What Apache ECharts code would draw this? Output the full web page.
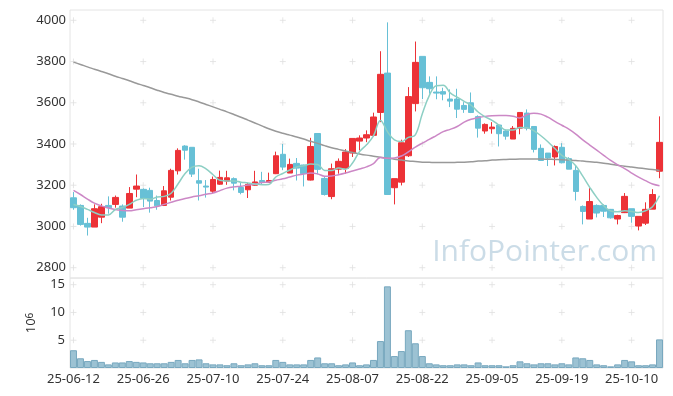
<!DOCTYPE html>
<html><head><meta charset="utf-8">
<script src="https://cdn.jsdelivr.net/npm/echarts@6/dist/echarts.min.js"></script>
<style>html,body{margin:0;padding:0;background:#fff}#c{width:673px;height:396px}</style>
</head><body><div id="c"></div>
<script>
const dates = ['25-06-12','25-06-13','25-06-16','25-06-17','25-06-18','25-06-19','25-06-20','25-06-23','25-06-24','25-06-25','25-06-26','25-06-27','25-06-30',
'25-07-01','25-07-02','25-07-03','25-07-04','25-07-07','25-07-08','25-07-09','25-07-10','25-07-11','25-07-14','25-07-15','25-07-16','25-07-17','25-07-18','25-07-21','25-07-22','25-07-23','25-07-24','25-07-25','25-07-28','25-07-29','25-07-30','25-07-31',
'25-08-01','25-08-04','25-08-05','25-08-06','25-08-07','25-08-08','25-08-11','25-08-12','25-08-13','25-08-14','25-08-18','25-08-19','25-08-20','25-08-21','25-08-22','25-08-25','25-08-26','25-08-27','25-08-28','25-08-29',
'25-09-01','25-09-02','25-09-03','25-09-04','25-09-05','25-09-08','25-09-09','25-09-10','25-09-11','25-09-12','25-09-15','25-09-16','25-09-17','25-09-18','25-09-19','25-09-22','25-09-23','25-09-24','25-09-25','25-09-26','25-09-29','25-09-30',
'25-10-01','25-10-02','25-10-10','25-10-13','25-10-14','25-10-15','25-10-16'];

const opens  = [3139,3102,3015,2997,3045,3102,3107,3099,3089,3181,3180,3175,3126,3102,3142,3270,3390,3384,3222,3196,3171,3205,3220,3232,3189,3178,3200,3223,3214,3256,3350,3259,3306,3298,3225,3451,3233,3145,3278,3282,3356,3414,3429,3442,3553,3744,3188,3215,3343,3596,3825,3699,3652,3654,3618,3618,3587,3600,3533,3463,3474,3492,3463,3424,3477,3550,3485,3379,3356,3337,3384,3329,3272,3097,3036,3102,3102,3083,3036,3067,3086,3002,3016,3084,3268];
const closes = [3091,3010,2997,3086,3096,3091,3141,3045,3160,3196,3137,3123,3100,3173,3272,3369,3370,3254,3210,3191,3228,3238,3236,3210,3165,3204,3216,3214,3223,3343,3288,3301,3283,3256,3388,3277,3155,3280,3316,3361,3427,3429,3445,3531,3738,3155,3232,3406,3630,3796,3673,3668,3647,3642,3608,3569,3568,3553,3477,3495,3482,3450,3438,3476,3553,3477,3374,3320,3332,3388,3309,3278,3170,3073,3121,3065,3074,3042,3053,3146,3049,3049,3083,3155,3408];
const lows   = [3081,3004,2956,2997,3016,3062,3091,3023,3089,3142,3094,3067,3081,3099,3126,3252,3324,3240,3126,3140,3162,3202,3202,3175,3156,3138,3198,3204,3214,3254,3273,3259,3223,3194,3223,3253,3150,3132,3256,3256,3337,3369,3409,3437,3506,3155,3107,3199,3337,3558,3618,3644,3617,3612,3579,3526,3551,3550,3431,3450,3450,3388,3421,3424,3447,3466,3359,3318,3293,3296,3306,3278,3126,3010,3036,3044,3046,3038,3010,3065,3018,2981,3007,3084,3234];
const highs  = [3167,3107,3042,3107,3110,3146,3150,3107,3191,3252,3185,3188,3150,3196,3280,3379,3394,3384,3280,3225,3242,3271,3270,3238,3212,3212,3270,3265,3261,3363,3400,3329,3332,3300,3430,3451,3243,3305,3330,3375,3427,3442,3466,3552,3850,3990,3232,3421,3676,3897,3825,3728,3728,3673,3665,3668,3603,3650,3539,3500,3506,3495,3467,3487,3553,3568,3485,3398,3356,3393,3404,3336,3297,3102,3186,3107,3107,3085,3057,3162,3086,3049,3117,3181,3534];

const volumes = [3.2,1.75,1.25,1.45,1.1,0.65,1.0,1.0,1.25,1.1,1.0,0.85,0.85,0.85,1.1,1.45,0.85,1.45,1.55,0.85,0.65,0.65,0.5,0.85,0.5,0.65,0.85,0.5,0.5,1.45,1.1,0.65,0.65,0.65,1.45,1.9,0.85,0.85,0.5,0.65,1.0,0.5,0.65,1.45,4.85,14.7,2.15,3.05,6.8,4.45,2.15,0.85,0.65,0.5,0.5,0.65,0.65,0.5,1.0,0.5,0.5,0.5,0.3,0.5,1.2,0.85,0.65,0.85,0.85,0.65,0.85,0.65,1.9,1.75,1.45,0.65,0.5,0.3,0.65,1.45,1.2,0.5,0.5,0.65,5.15];

const ma5 = [3107,3097,3083,3068,3056,3056,3082,3092,3107,3127,3136,3132,3143,3146,3161,3207,3257,3288,3295,3279,3251,3224,3221,3221,3215,3211,3206,3202,3204,3240,3257,3274,3288,3294,3303,3301,3272,3271,3283,3278,3308,3363,3396,3439,3514,3460,3420,3412,3432,3444,3547,3635,3683,3685,3648,3627,3607,3588,3555,3532,3515,3491,3468,3468,3480,3479,3464,3440,3411,3378,3345,3325,3295,3244,3190,3141,3101,3075,3071,3076,3073,3068,3076,3096,3149];
const ma20 = [3175,3155,3133,3113,3100,3090,3082,3078,3076,3081,3086,3091,3097,3107,3117,3127,3136,3143,3149,3156,3162,3174,3186,3192,3195,3201,3205,3213,3216,3224,3231,3240,3249,3254,3259,3255,3244,3245,3251,3259,3269,3279,3289,3305,3334,3331,3332,3342,3362,3385,3404,3422,3441,3460,3471,3485,3506,3520,3528,3534,3537,3538,3538,3535,3526,3542,3549,3545,3530,3510,3491,3472,3448,3420,3395,3370,3345,3320,3299,3281,3259,3239,3222,3206,3198];
const ma120 = [3797,3786,3774,3763,3752,3741,3729,3718,3707,3695,3684,3673,3661,3650,3641,3632,3624,3615,3604,3592,3580,3568,3556,3543,3530,3516,3502,3488,3474,3462,3452,3443,3434,3424,3413,3403,3392,3382,3374,3366,3359,3352,3346,3341,3336,3331,3326,3322,3318,3315,3312,3311,3310,3310,3310,3311,3312,3314,3317,3319,3322,3324,3325,3326,3327,3327,3327,3327,3326,3325,3324,3322,3320,3317,3314,3311,3307,3302,3297,3292,3288,3284,3280,3276,3272];

const priceTicks = [2800,3000,3200,3400,3600,3800,4000];
const volumeTicks = [5,10,15];
const labelEvery = 10;

const FONT = '"Noto Sans", sans-serif';
const candleData = dates.map((d,i)=>[opens[i],closes[i],lows[i],highs[i]]);
const crossPrice = [], crossVol = [];
for (let k=0;k<dates.length;k+=labelEvery){
  priceTicks.forEach(t=>crossPrice.push([k,t]));
  volumeTicks.forEach(t=>crossVol.push([k,t]));
}
const crossSym = 'path://M0,3H6M3,0V6';
const crossStyle = {color:'none', borderColor:'#e0e0e0', borderWidth:1};

const chart = echarts.init(document.getElementById('c'));
chart.setOption({
  animation:false,
  textStyle:{fontFamily:FONT},
  grid:[
    {left:70,right:10,top:10,height:268,show:true,borderColor:'#e4e4e4',borderWidth:1},
    {left:70,right:10,top:278,height:90,show:true,borderColor:'#e4e4e4',borderWidth:1}
  ],
  xAxis:[
    {type:'category',gridIndex:0,data:dates,boundaryGap:true,axisLine:{show:false},axisTick:{show:false},axisLabel:{show:false},splitLine:{show:false}},
    {type:'category',gridIndex:1,data:dates,boundaryGap:true,axisLine:{show:false},axisTick:{show:false},
     axisLabel:{interval:labelEvery-1,fontSize:13,color:'#333',margin:5,fontFamily:FONT},splitLine:{show:false}}
  ],
  yAxis:[
    {type:'value',gridIndex:0,min:2750,max:4050,interval:50,axisLine:{show:false},axisTick:{show:false},splitLine:{show:false},
     axisLabel:{formatter:v=>priceTicks.includes(v)?String(v):'',fontSize:13,color:'#333',margin:4,fontFamily:FONT}},
    {type:'value',gridIndex:1,min:0,max:16.2,interval:1,axisLine:{show:false},axisTick:{show:false},splitLine:{show:false},
     axisLabel:{formatter:v=>volumeTicks.includes(v)?String(v):'',fontSize:13,color:'#333',margin:5,fontFamily:FONT},
     name:'{b|10}{s|6}',nameLocation:'middle',nameRotate:90,nameGap:32,
     nameTextStyle:{rich:{b:{fontSize:13,color:'#333',fontFamily:FONT},s:{fontSize:10,color:'#333',verticalAlign:'top',fontFamily:FONT}}}}
  ],
  graphic:[{type:'text',right:16,top:237,z:0,silent:true,
    style:{text:'InfoPointer.com',font:'30px "Open Sans"',fill:'rgba(160,192,212,0.55)'}}],
  series:[
    {type:'scatter',xAxisIndex:0,yAxisIndex:0,data:crossPrice,symbol:crossSym,symbolSize:6,itemStyle:crossStyle,silent:true,z:0},
    {type:'scatter',xAxisIndex:1,yAxisIndex:1,data:crossVol,symbol:crossSym,symbolSize:6,itemStyle:crossStyle,silent:true,z:0},
    {type:'candlestick',xAxisIndex:0,yAxisIndex:0,data:candleData,barWidth:6,
     itemStyle:{color:'#ec3237',color0:'#67c0d6',borderColor:'#ec3237',borderColor0:'#67c0d6',borderWidth:1}},
    {type:'line',xAxisIndex:0,yAxisIndex:0,data:ma120,smooth:0.4,symbol:'none',lineStyle:{color:'#999999',width:1.5},z:3},
    {type:'line',xAxisIndex:0,yAxisIndex:0,data:ma20,smooth:0.4,symbol:'none',lineStyle:{color:'#cc88c6',width:1.5},z:3},
    {type:'line',xAxisIndex:0,yAxisIndex:0,data:ma5,smooth:0.4,symbol:'none',lineStyle:{color:'#8dcfc4',width:1.5},z:3},
    {type:'bar',xAxisIndex:1,yAxisIndex:1,data:volumes,barCategoryGap:'0%',
     itemStyle:{color:'#9cc2d3',borderColor:'#78a8bf',borderWidth:1}}
  ]
});
</script></body></html>
